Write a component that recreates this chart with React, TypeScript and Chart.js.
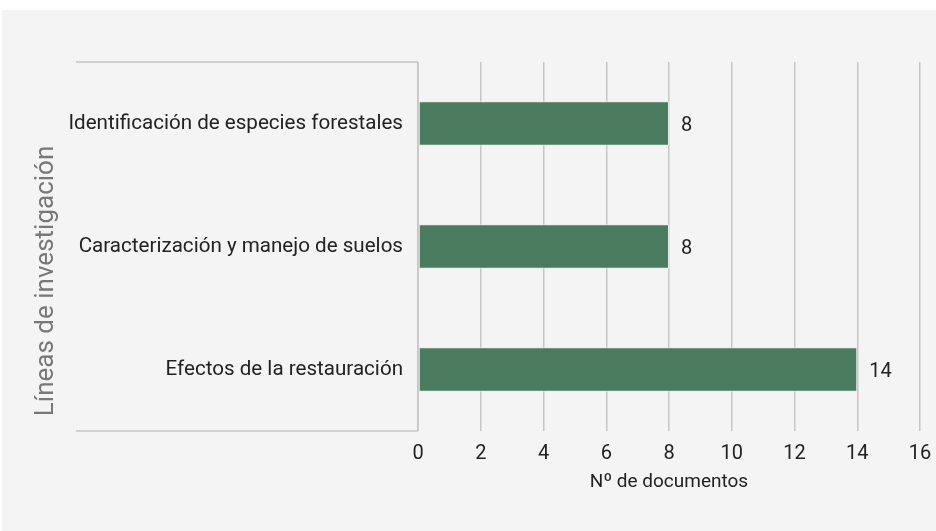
import React, { useEffect, useRef } from "react";
import { Chart, registerables } from "chart.js";

Chart.register(...registerables);

const categories = [
  "Identificación de especies forestales",
  "Caracterización y manejo de suelos",
  "Efectos de la restauración",
];
const values = [8, 8, 14];
const xTitle = "Nº de documentos";
const yTitle = "Líneas de investigación";
const xMin = 0;
const xMax = 16;
const xStep = 2;

const W = 934;
const H = 521;
const FONT = "Roboto, 'Noto Sans', sans-serif";

const decor = {
  id: "decor",
  beforeDraw(chart: any) {
    const { ctx } = chart;
    ctx.save();
    ctx.fillStyle = "#f3f4f3";
    ctx.fillRect(0, 0, chart.width, chart.height);
    ctx.restore();
  },
  afterDraw(chart: any) {
    const { ctx, chartArea } = chart;
    const { left, top, bottom } = chartArea;
    ctx.save();
    ctx.strokeStyle = "#c6c6c6";
    ctx.lineWidth = 1.5;
    ctx.beginPath();
    ctx.moveTo(74, top);
    ctx.lineTo(left, top);
    ctx.moveTo(74, bottom);
    ctx.lineTo(left, bottom);
    ctx.moveTo(left, top);
    ctx.lineTo(left, bottom);
    ctx.stroke();

    // y title
    ctx.fillStyle = "#777777";
    ctx.font = `26px ${FONT}`;
    ctx.textAlign = "center";
    ctx.textBaseline = "middle";
    ctx.translate(44, 271);
    ctx.rotate(-Math.PI / 2);
    ctx.fillText(yTitle, 0, 0);
    ctx.restore();

    // data labels
    const meta = chart.getDatasetMeta(0);
    ctx.save();
    ctx.fillStyle = "#222222";
    ctx.font = `20px ${FONT}`;
    ctx.textAlign = "left";
    ctx.textBaseline = "middle";
    meta.data.forEach((bar: any, i: number) => {
      ctx.fillText(String(values[i]), bar.x + 12, bar.y + 2);
    });
    ctx.restore();
  },
};

export default function App() {
  const ref = useRef<HTMLCanvasElement>(null);
  useEffect(() => {
    if (!ref.current) return;
    const chart = new Chart(ref.current, {
      type: "bar",
      data: {
        labels: categories,
        datasets: [
          {
            data: values,
            backgroundColor: "#4b7b5e",
            borderColor: "#e9ece9",
            borderWidth: 1,
            borderSkipped: false,
            barPercentage: 0.36,
            categoryPercentage: 1,
          },
        ],
      },
      options: {
        indexAxis: "y",
        responsive: false,
        animation: false,
        layout: { padding: { left: 0, top: 52, right: 16, bottom: 37 } },
        plugins: {
          legend: { display: false },
          tooltip: { enabled: false },
        },
        scales: {
          x: {
            min: xMin,
            max: xMax,
            ticks: {
              stepSize: xStep,
              color: "#222222",
              font: { family: FONT, size: 20 },
              padding: 11,
            },
            grid: {
              color: "#c6c6c6",
              lineWidth: 1.5,
              drawTicks: false,
            },
            border: { display: false },
            title: {
              display: true,
              text: xTitle,
              color: "#222222",
              font: { family: FONT, size: 19 },
              padding: { top: 0, bottom: 0 },
            },
            afterFit(scale: any) {
              scale.height = 63;
              scale.paddingLeft = 0;
              scale.paddingRight = 0;
            },
          },
          y: {
            ticks: {
              color: "#222222",
              font: { family: FONT, size: 20.6 },
              padding: 15,
            },
            grid: { display: false, drawTicks: false },
            border: { display: false },
            afterFit(scale: any) {
              scale.width = 416;
              scale.paddingTop = 0;
              scale.paddingBottom = 0;
            },
          },
        },
      },
      plugins: [decor],
    });
    return () => chart.destroy();
  }, []);
  return (
    <div style={{ position: "fixed", left: 2, top: 10, width: W, height: H }}>
      <canvas ref={ref} width={W} height={H} style={{ display: "block" }} />
    </div>
  );
}
